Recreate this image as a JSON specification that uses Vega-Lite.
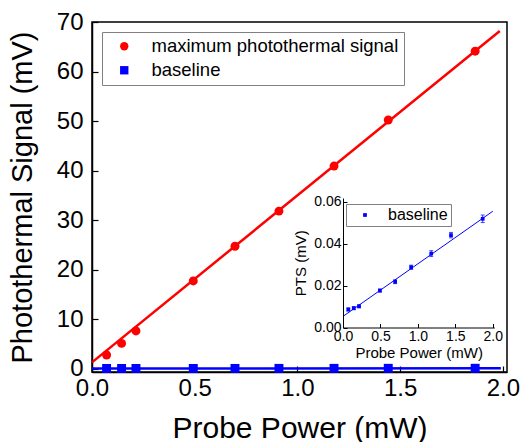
{
  "$schema": "https://vega.github.io/schema/vega-lite/v6.json",
  "width": 415,
  "height": 350,
  "autosize": "none",
  "padding": {"left": 92, "top": 22, "right": 20, "bottom": 70},
  "background": "white",
  "config": {
    "font": "Liberation Sans",
    "view": {"stroke": "black", "strokeWidth": 1.5},
    "axis": {"labelColor": "black", "titleColor": "black", "titleFontWeight": "normal", "domainColor": "black", "tickColor": "black", "grid": false, "labelFont": "Liberation Sans", "titleFont": "Liberation Sans"},
    "legend": {"labelFont": "Liberation Sans", "labelColor": "black", "labelLimit": 0}
  },
  "datasets": {
    "pts": [
      {"x": 0.071, "y": 2.73, "series": "maximum photothermal signal"},
      {"x": 0.144, "y": 5.08, "series": "maximum photothermal signal"},
      {"x": 0.214, "y": 7.6, "series": "maximum photothermal signal"},
      {"x": 0.493, "y": 17.7, "series": "maximum photothermal signal"},
      {"x": 0.696, "y": 24.7, "series": "maximum photothermal signal"},
      {"x": 0.91, "y": 31.8, "series": "maximum photothermal signal"},
      {"x": 1.178, "y": 40.9, "series": "maximum photothermal signal"},
      {"x": 1.442, "y": 50.2, "series": "maximum photothermal signal"},
      {"x": 1.865, "y": 64.1, "series": "maximum photothermal signal"},
      {"x": 0.071, "y": 0.0086, "lo": 0.0079, "hi": 0.0093, "series": "baseline"},
      {"x": 0.144, "y": 0.0092, "lo": 0.0085, "hi": 0.0099, "series": "baseline"},
      {"x": 0.214, "y": 0.0101, "lo": 0.0094, "hi": 0.0108, "series": "baseline"},
      {"x": 0.493, "y": 0.0176, "lo": 0.0169, "hi": 0.0183, "series": "baseline"},
      {"x": 0.696, "y": 0.0218, "lo": 0.0209, "hi": 0.0227, "series": "baseline"},
      {"x": 0.91, "y": 0.0287, "lo": 0.0277, "hi": 0.0297, "series": "baseline"},
      {"x": 1.178, "y": 0.0352, "lo": 0.0338, "hi": 0.0366, "series": "baseline"},
      {"x": 1.442, "y": 0.044, "lo": 0.0427, "hi": 0.0453, "series": "baseline"},
      {"x": 1.865, "y": 0.0518, "lo": 0.05, "hi": 0.0536, "series": "baseline"}
    ],
    "fits": [
      {"x": 0, "y": 1.25, "fit": "signal"},
      {"x": 1.985, "y": 68.2, "fit": "signal"},
      {"x": 0, "y": 0.0055, "fit": "baseline"},
      {"x": 1.99, "y": 0.0553, "fit": "baseline"},
      {"x": 0, "y": 0.0053, "fit": "inset"},
      {"x": 2.0, "y": 0.0554, "fit": "inset"}
    ]
  },
  "layer": [
    {
      "encoding": {
        "x": {"field": "x", "type": "quantitative",
          "scale": {"domain": [0, 2.02], "nice": false, "zero": false},
          "axis": {"values": [0, 0.5, 1, 1.5, 2], "format": ".1f", "title": "Probe Power (mW)", "labelFontSize": 24, "titleFontSize": 30, "tickSize": -6, "labelPadding": 10, "titlePadding": 13, "domainWidth": 1.5, "tickWidth": 1.2, "labelFlush": false}},
        "y": {"field": "y", "type": "quantitative",
          "scale": {"domain": [-0.7, 70], "nice": false, "zero": false},
          "axis": {"values": [0, 10, 20, 30, 40, 50, 60, 70], "title": "Photothermal Signal (mV)", "labelFontSize": 24, "titleFontSize": 29, "tickSize": -6, "labelPadding": 15, "titlePadding": 19, "domainWidth": 1.5, "tickWidth": 1.2, "labelFlush": false}}
      },
      "layer": [
        {"data": {"name": "fits"}, "transform": [{"filter": "datum.fit === 'signal'"}],
          "mark": {"type": "line", "color": "#ff0000", "strokeWidth": 2.5}},
        {"data": {"name": "fits"}, "transform": [{"filter": "datum.fit === 'baseline'"}],
          "mark": {"type": "line", "color": "#0000ff", "strokeWidth": 2.5}},
        {"data": {"name": "pts"},
          "mark": {"type": "point", "filled": true, "opacity": 1, "size": 80},
          "encoding": {
            "color": {"field": "series", "type": "nominal",
              "scale": {"domain": ["maximum photothermal signal", "baseline"], "range": ["#ff0000", "#0000ff"]},
              "legend": {"orient": "none", "legendX": 10, "legendY": 10, "title": null, "strokeColor": "#808080", "fillColor": "white", "padding": 5, "labelFontSize": 18.5, "symbolSize": 70, "symbolOffset": 8, "labelOffset": 18, "rowPadding": 5, "symbolStrokeWidth": 0, "labelLimit": 0}},
            "shape": {"field": "series", "type": "nominal",
              "scale": {"domain": ["maximum photothermal signal", "baseline"], "range": ["circle", "square"]}}
          }}
      ]
    },
    {
      "encoding": {
        "x": {"field": "x", "type": "quantitative",
          "scale": {"domain": [0, 2.02], "range": [251, 402.3], "nice": false, "zero": false},
          "axis": {"orient": "bottom", "offset": -44.5, "zindex": 2, "values": [0, 0.5, 1, 1.5, 2], "format": ".1f", "title": "Probe Power (mW)", "labelFontSize": 14, "titleFontSize": 15, "tickSize": -4, "labelPadding": 6, "titlePadding": 2, "domainWidth": 1, "tickWidth": 1, "labelFlush": false}},
        "y": {"field": "y", "type": "quantitative",
          "scale": {"domain": [0, 0.0617], "range": [305.5, 176], "nice": false, "zero": false},
          "axis": {"orient": "left", "offset": -251, "zindex": 2, "values": [0, 0.02, 0.04, 0.06], "format": ".2f", "title": "PTS (mV)", "labelFontSize": 14, "titleFontSize": 15, "tickSize": -4, "labelPadding": 6, "titlePadding": 5, "domainWidth": 1, "tickWidth": 1, "labelFlush": false}}
      },
      "layer": [
        {"data": {"values": [{}]},
          "mark": {"type": "rect", "fill": "white", "stroke": "black", "strokeWidth": 1},
          "encoding": {"x": {"datum": 0, "type": "quantitative"}, "x2": {"datum": 2.02}, "y": {"datum": 0, "type": "quantitative"}, "y2": {"datum": 0.0617}}},
        {"data": {"name": "fits"}, "transform": [{"filter": "datum.fit === 'inset'"}],
          "mark": {"type": "line", "color": "#0000ff", "strokeWidth": 1}},
        {"data": {"name": "pts"}, "transform": [{"filter": "datum.series === 'baseline'"}],
          "mark": {"type": "errorbar", "ticks": {"size": 4, "color": "#0000ff"}, "rule": {"color": "#0000ff", "strokeWidth": 0.8}},
          "encoding": {"y": {"field": "lo", "type": "quantitative"}, "y2": {"field": "hi"}}},
        {"data": {"name": "pts"}, "transform": [{"filter": "datum.series === 'baseline'"}],
          "mark": {"type": "square", "opacity": 1, "size": 14},
          "encoding": {
            "color": {"field": "series", "type": "nominal",
              "scale": {"domain": ["baseline"], "range": ["#0000ff"]},
              "legend": {"orient": "none", "legendX": 254, "legendY": 182, "title": null, "strokeColor": "#808080", "fillColor": "white", "padding": 3, "labelFontSize": 16, "symbolSize": 14, "symbolType": "square", "symbolOffset": 8, "labelOffset": 15, "symbolStrokeWidth": 0}}
          }}
      ]
    }
  ],
  "resolve": {
    "scale": {"x": "independent", "y": "independent", "color": "independent", "shape": "independent"},
    "axis": {"x": "independent", "y": "independent"},
    "legend": {"color": "independent", "shape": "independent"}
  }
}
